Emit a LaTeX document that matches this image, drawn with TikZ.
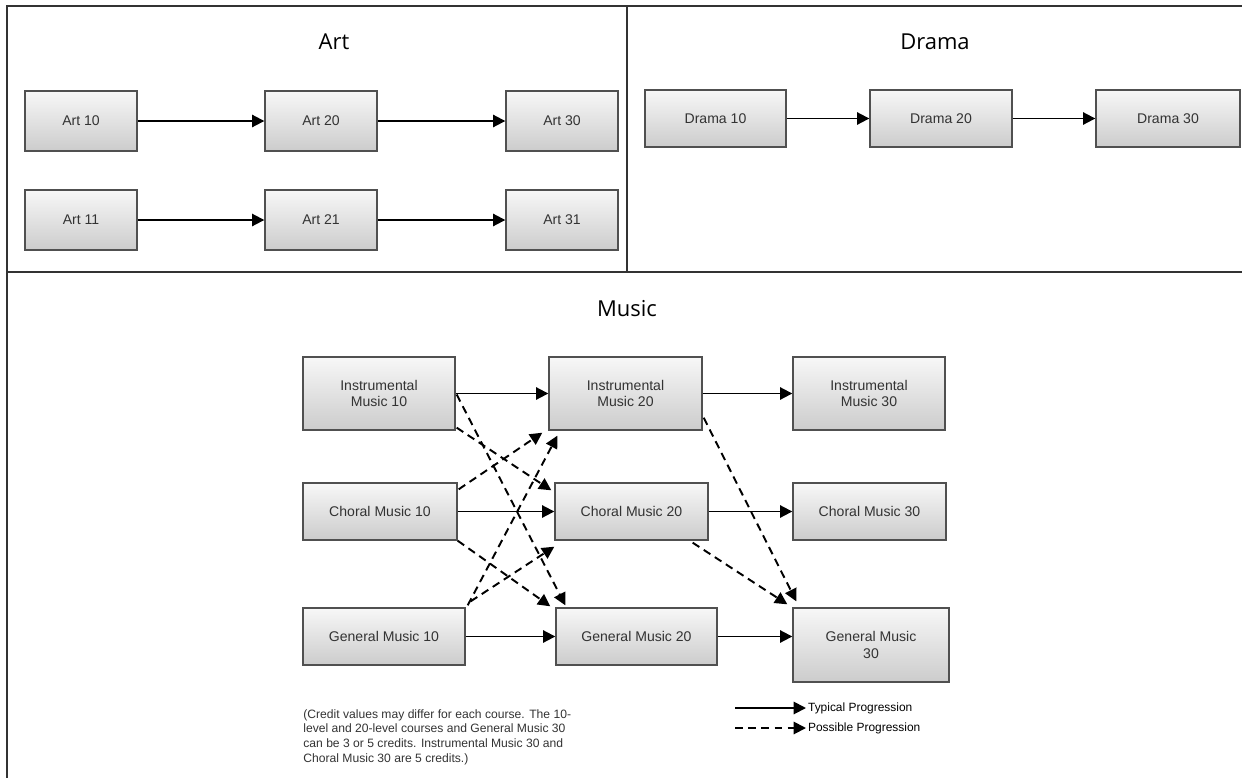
\documentclass[tikz,border=0pt]{standalone}
\usepackage{fontspec}
\setmainfont{Liberation Sans}
\newfontfamily\titlefont{Open Sans}
\usetikzlibrary{arrows.meta,calc}
\definecolor{boxline}{HTML}{505050}
\definecolor{boxtext}{HTML}{333333}
\definecolor{frameline}{HTML}{333333}
\tikzset{
  course/.style={draw=boxline, line width=0.8pt, top color=gray!6, bottom color=gray!40,
    text=boxtext, font=\fontsize{8}{9.5}\selectfont, align=center, inner sep=1pt},
  small/.style={course, minimum height=1.14cm},
  tall/.style={course, minimum height=1.46cm},
  title/.style={font=\titlefont\fontsize{12.5}{14}\selectfont},
  typical/.style={-{Triangle[length=7pt,width=7pt]}, line width=1.1pt},
  possible/.style={typical, dash pattern=on 4.5pt off 3pt},
}
\begin{document}
\begin{tikzpicture}[x=0.02cm, y=-0.02cm]
    \useasboundingbox (0,0) rectangle (1242,778);
    % Frame
    \draw[frameline, line width=1.1pt] (1242,6) -- (7,6) -- (7,778);
    \draw[frameline, line width=1.1pt] (7,272) -- (1242,272);
    \draw[frameline, line width=1.1pt] (627,6) -- (627,272);
    % Titles
    \node[title] (arttitle) at (334,42) {Art};
    \node[title] (dramatitle) at (935,42) {Drama};
    \node[title] (musictitle) at (627,309) {Music};
    % Art
    \node[course, minimum width=2.24cm, minimum height=1.2cm] (art10) at (81,121) {Art 10};
    \node[course, minimum width=2.24cm, minimum height=1.2cm] (art20) at (321,121) {Art 20};
    \node[course, minimum width=2.24cm, minimum height=1.2cm] (art30) at (562,121) {Art 30};
    \node[course, minimum width=2.24cm, minimum height=1.2cm] (art11) at (81,220) {Art 11};
    \node[course, minimum width=2.24cm, minimum height=1.2cm] (art21) at (321,220) {Art 21};
    \node[course, minimum width=2.24cm, minimum height=1.2cm] (art31) at (562,220) {Art 31};
    \draw[typical] (art10) -- (art20);
    \draw[typical] (art20) -- (art30);
    \draw[typical] (art11) -- (art21);
    \draw[typical] (art21) -- (art31);
    % Drama
    \node[small, minimum width=2.82cm] (drama10) at (715.5,118.5) {Drama 10};
    \node[small, minimum width=2.84cm] (drama20) at (941,118.5) {Drama 20};
    \node[small, minimum width=2.88cm] (drama30) at (1168,118.5) {Drama 30};
    \draw[typical] (drama10) -- (drama20);
    \draw[typical] (drama20) -- (drama30);
    % Music
    \node[tall, minimum width=3.04cm] (im10) at (379,393.5) {Instrumental\\Music 10};
    \node[tall, minimum width=3.06cm] (im20) at (625.5,393.5) {Instrumental\\Music 20};
    \node[tall, minimum width=3.04cm] (im30) at (869,393.5) {Instrumental\\Music 30};
    \node[small, minimum width=3.08cm] (cm10) at (380,511.5) {Choral Music 10};
    \node[small, minimum width=3.06cm] (cm20) at (631.5,511.5) {Choral Music 20};
    \node[small, minimum width=3.06cm] (cm30) at (869.5,511.5) {Choral Music 30};
    \node[small, minimum width=3.24cm] (gm10) at (384,636.5) {General Music 10};
    \node[small, minimum width=3.22cm] (gm20) at (636.5,636.5) {General Music 20};
    \node[tall, minimum width=3.12cm, minimum height=1.48cm] (gm30) at (871,645) {General Music\\30};
    \draw[typical] (im10) -- (im20);
    \draw[typical] (im20) -- (im30);
    \draw[typical] (cm10) -- (cm20);
    \draw[typical] (cm20) -- (cm30);
    \draw[typical] (gm10) -- (gm20);
    \draw[typical] (gm20.east) -- (gm20.east -| gm30.west);
    % Possible ways
    \draw[possible] ($(im10.east)+(1,1)$) -- ($(gm20.north west)+(10,-2)$);
    \draw[possible] ($(im10.south east)+(1,-3)$) -- ($(cm20.north west)+(-3,8)$);
    \draw[possible] ($(cm10.north east)+(1,7)$) -- ($(im20.south west)+(-6,2)$);
    \draw[possible] ($(gm10.north east)+(2,-2)$) -- ($(im20.south west)+(9,5)$);
    \draw[possible] ($(gm10.north east)+(5,-6)$) -- ($(cm20.south west)+(0,6)$);
    \draw[possible] ($(cm10.south east)+(0,0)$) -- ($(gm20.north west)+(-5,-1)$);
    \draw[possible] ($(im20.south east)+(1,-13)$) -- ($(gm30.north west)+(4,-6)$);
    \draw[possible] ($(cm20.south east)+(-16,2)$) -- ($(gm30.north west)+(-5,-3)$);
    % Legend
    \coordinate (typa) at (735,708);
    \coordinate (typb) at (806,708);
    \coordinate (posa) at (735,728);
    \coordinate (posb) at (806,728);
    \draw[typical] (typa) -- (typb);
    \draw[possible] (posa) -- (posb);
    \node[anchor=west, inner sep=1pt, font=\fontsize{6.8}{8}\selectfont] (typlabel) at (typb) {Typical Progression};
    \node[anchor=west, inner sep=1pt, font=\fontsize{6.8}{8}\selectfont] (poslabel) at (posb) {Possible Progression};
    % Note
    \node[anchor=north west, align=left, inner sep=0pt, text=boxtext,
      font=\fontsize{6.9}{8.4}\selectfont] (note) at (303,709)
      {(Credit values may differ for each course. The 10-\\level and 20-level courses and General Music 30\\can be 3 or 5 credits. Instrumental Music 30 and\\Choral Music 30 are 5 credits.)};
  \end{tikzpicture}
\end{document}
